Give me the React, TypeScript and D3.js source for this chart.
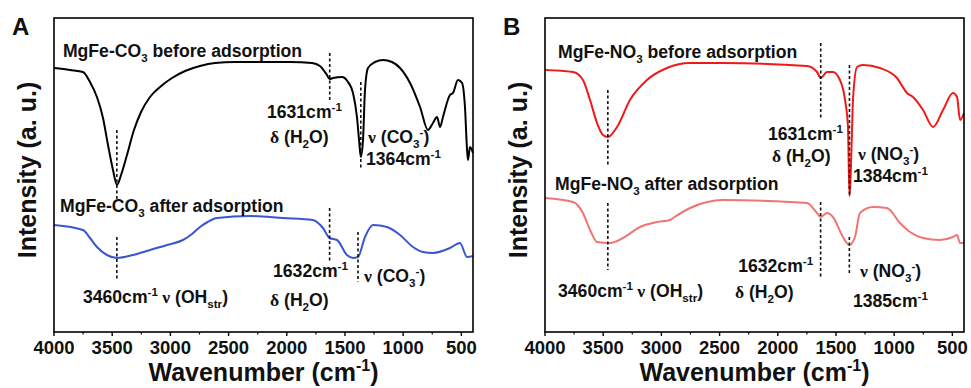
import React from "react";
import * as d3 from "d3";

// ---------- DATA (wavenumber cm-1, intensity a.u.) ----------
const majorTicks = [4000, 3500, 3000, 2500, 2000, 1500, 1000, 500];
const minorTicks = [3750, 3250, 2750, 2250, 1750, 1250, 750];

const co3BeforeWn = [4000, 3863, 3751, 3691, 3631, 3579, 3536, 3493, 3459, 3424, 3373, 3313, 3252, 3175, 3089, 2986, 2874, 2746, 2617, 2445, 2230, 1972, 1783, 1715, 1660, 1631, 1603, 1526, 1474, 1431, 1397, 1379, 1364, 1345, 1328, 1302, 1242, 1173, 1096, 1027, 941, 855, 787, 744, 709, 683, 658, 598, 572, 529, 494, 469, 451, 443, 426, 400];
const co3BeforeI = [264, 262, 260, 250, 235, 214, 187, 162, 147, 157, 177, 202, 220, 235, 245, 254, 261, 266, 269, 270, 270, 270, 269, 266, 258, 253, 254, 255, 250, 239, 215, 192, 175, 192, 242, 264, 270, 272, 270, 264, 249, 225, 202, 209, 215, 205, 215, 237, 239, 252, 249, 225, 182, 172, 185, 179];

const co3AfterWn = [4000, 3751, 3691, 3631, 3545, 3459, 3321, 3175, 3029, 2892, 2814, 2746, 2680, 2600, 2316, 2032, 1775, 1689, 1632, 1568, 1483, 1431, 1388, 1328, 1259, 1139, 1027, 916, 830, 744, 598, 512, 451, 400];
const co3AfterI = [107, 102, 94, 85, 77, 74, 77, 82, 87, 92, 98, 105, 110, 114, 116, 114, 112, 104, 94, 92, 77, 74, 75, 95, 107, 105, 97, 85, 80, 79, 84, 89, 75, 76];

const no3BeforeWn = [4000, 3759, 3674, 3613, 3553, 3502, 3460, 3381, 3270, 3124, 2952, 2754, 2471, 1749, 1663, 1631, 1577, 1526, 1466, 1422, 1397, 1384, 1362, 1354, 1319, 1268, 1122, 976, 890, 838, 752, 666, 580, 495, 460, 434, 400];
const no3BeforeI = [262, 260, 252, 232, 209, 197, 195, 205, 232, 252, 264, 269, 269, 266, 260, 254, 260, 260, 252, 232, 205, 136, 202, 232, 265, 267, 264, 254, 239, 235, 222, 205, 222, 239, 235, 212, 219];

const no3AfterWn = [4000, 3759, 3674, 3613, 3553, 3442, 3330, 3184, 3038, 2926, 2900, 2754, 2608, 2471, 1895, 1749, 1663, 1632, 1577, 1526, 1440, 1385, 1337, 1294, 1182, 1062, 950, 864, 752, 606, 495, 460, 434, 400];
const no3AfterI = [134, 130, 119, 102, 90, 89, 94, 105, 110, 112, 114, 124, 130, 132, 130, 129, 119, 115, 119, 115, 95, 87, 95, 119, 125, 124, 109, 100, 94, 92, 95, 97, 89, 89];

// ---------- LAYOUT ----------
const W = 971, H = 388;
const panels = [
  { letter: "A", left: 54, right: 473 },
  { letter: "B", left: 545, right: 964 },
];
const TOP = 18, BOTTOM = 332;

type Part = { t: string; sub?: boolean; sup?: boolean; serif?: boolean };

function Rich({ x, y, parts, size = 17 }: { x: number; y: number; parts: Part[]; size?: number }) {
  let prev = 0;
  return (
    <text x={x} y={y} fontSize={size} fontWeight="bold" fontFamily="'Liberation Sans', Arial, sans-serif" fill="#111">
      {parts.map((p, i) => {
        const shift = p.sub ? size * 0.28 : p.sup ? -size * 0.38 : 0;
        const dy = shift - prev;
        prev = shift;
        return (
          <tspan key={i} dy={dy} fontSize={p.sub || p.sup ? size * 0.66 : size}
            fontFamily={p.serif ? "'Liberation Serif', 'Times New Roman', serif" : undefined}>
            {p.t}
          </tspan>
        );
      })}
    </text>
  );
}

const cm = (n: string): Part[] => [{ t: n + "cm" }, { t: "-1", sup: true }];

type Ann = { wn: number; v: number; parts: Part[] };
type Dash = { wn: number; v1: number; v2: number };

const annA: Ann[] = [
  { wn: 3923, v: 275, parts: [{ t: "MgFe-CO" }, { t: "3", sub: true }, { t: " before adsorption" }] },
  { wn: 2170, v: 214, parts: cm("1631") },
  { wn: 2144, v: 189, parts: [{ t: "δ", serif: true }, { t: " (H" }, { t: "2", sub: true }, { t: "O)" }] },
  { wn: 1302, v: 189, parts: [{ t: "ν", serif: true }, { t: " (CO" }, { t: "3", sub: true }, { t: "-", sup: true }, { t: ")" }] },
  { wn: 1319, v: 167, parts: cm("1364") },
  { wn: 3948, v: 120, parts: [{ t: "MgFe-CO" }, { t: "3", sub: true }, { t: " after adsorption" }] },
  { wn: 3751, v: 29, parts: [...cm("3460"), { t: " ν", serif: true }, { t: " (OH" }, { t: "str", sub: true }, { t: ")" }] },
  { wn: 2118, v: 55, parts: cm("1632") },
  { wn: 2144, v: 26, parts: [{ t: "δ", serif: true }, { t: " (H" }, { t: "2", sub: true }, { t: "O)" }] },
  { wn: 1336, v: 50, parts: [{ t: "ν", serif: true }, { t: " (CO" }, { t: "3", sub: true }, { t: "-", sup: true }, { t: ")" }] },
];
const dashA: Dash[] = [
  { wn: 1631, v1: 279, v2: 232 },
  { wn: 1364, v1: 250, v2: 162 },
  { wn: 3460, v1: 202, v2: 130 },
  { wn: 3460, v1: 95, v2: 52 },
  { wn: 1632, v1: 124, v2: 69 },
  { wn: 1388, v1: 100, v2: 50 },
];
const annB: Ann[] = [
  { wn: 3888, v: 274, parts: [{ t: "MgFe-NO" }, { t: "3", sub: true }, { t: " before adsorption" }] },
  { wn: 2084, v: 192, parts: cm("1631") },
  { wn: 2050, v: 170, parts: [{ t: "δ", serif: true }, { t: " (H" }, { t: "2", sub: true }, { t: "O)" }] },
  { wn: 1311, v: 172, parts: [{ t: "ν", serif: true }, { t: " (NO" }, { t: "3", sub: true }, { t: "-", sup: true }, { t: ")" }] },
  { wn: 1354, v: 150, parts: cm("1384") },
  { wn: 3914, v: 142, parts: [{ t: "MgFe-NO" }, { t: "3", sub: true }, { t: " after adsorption" }] },
  { wn: 3888, v: 35, parts: [...cm("3460"), { t: " ν", serif: true }, { t: " (OH" }, { t: "str", sub: true }, { t: ")" }] },
  { wn: 2340, v: 60, parts: cm("1632") },
  { wn: 2368, v: 34, parts: [{ t: "δ", serif: true }, { t: " (H" }, { t: "2", sub: true }, { t: "O)" }] },
  { wn: 1294, v: 55, parts: [{ t: "ν", serif: true }, { t: " (NO" }, { t: "3", sub: true }, { t: "-", sup: true }, { t: ")" }] },
  { wn: 1354, v: 25, parts: cm("1385") },
];
const dashB: Dash[] = [
  { wn: 1631, v1: 289, v2: 214 },
  { wn: 1384, v1: 267, v2: 135 },
  { wn: 3460, v1: 242, v2: 167 },
  { wn: 3460, v1: 129, v2: 62 },
  { wn: 1632, v1: 130, v2: 55 },
  { wn: 1385, v1: 95, v2: 57 },
];

const seriesA = [
  { wn: co3BeforeWn, i: co3BeforeI, color: "#000000" },
  { wn: co3AfterWn, i: co3AfterI, color: "#3a55d2" },
];
const seriesB = [
  { wn: no3BeforeWn, i: no3BeforeI, color: "#f01818" },
  { wn: no3AfterWn, i: no3AfterI, color: "#f07474" },
];

function Panel({ idx }: { idx: number }) {
  const p = panels[idx];
  const series = idx === 0 ? seriesA : seriesB;
  const anns = idx === 0 ? annA : annB;
  const dashes = idx === 0 ? dashA : dashB;
  const x = d3.scaleLinear().domain([4000, 400]).range([p.left, p.right]);
  const y = d3.scaleLinear().domain([0, BOTTOM - TOP]).range([BOTTOM, TOP]);
  const line = d3.line<[number, number]>().x((d) => x(d[0])).y((d) => y(d[1])).curve(d3.curveMonotoneX);
  const cx = (p.left + p.right) / 2;
  const font = "'Liberation Sans', Arial, sans-serif";
  return (
    <g>
      {series.map((s, k) => (
        <path key={k} d={line(s.wn.map((w, j) => [w, s.i[j]] as [number, number])) || ""}
          fill="none" stroke={s.color} strokeWidth={2} strokeLinejoin="round" />
      ))}
      {dashes.map((d, k) => (
        <line key={k} x1={x(d.wn)} x2={x(d.wn)} y1={y(d.v1)} y2={y(d.v2)}
          stroke="#111" strokeWidth={1.6} strokeDasharray="3,2.5" />
      ))}
      {anns.map((a, k) => (
        <Rich key={k} x={x(a.wn)} y={y(a.v)} parts={a.parts} size={17.6} />
      ))}
      <rect x={p.left} y={TOP} width={p.right - p.left} height={BOTTOM - TOP} fill="none" stroke="#000" strokeWidth={1.6} />
      {majorTicks.map((t) => (
        <g key={t}>
          <line x1={x(t)} x2={x(t)} y1={BOTTOM} y2={BOTTOM + 4} stroke="#000" strokeWidth={1.4} />
          <text x={x(t)} y={BOTTOM + 22} textAnchor="middle" fontSize={18.5} fontWeight="bold" fontFamily={font} fill="#111">{t}</text>
        </g>
      ))}
      {minorTicks.map((t) => (
        <line key={t} x1={x(t)} x2={x(t)} y1={BOTTOM} y2={BOTTOM + 2.5} stroke="#000" strokeWidth={1.2} />
      ))}
      <text x={cx} y={BOTTOM + 49} textAnchor="middle" fontSize={25} fontWeight="bold" fontFamily={font} fill="#111">
        <tspan>Wavenumber (cm</tspan>
        <tspan dy={-10} fontSize={16}>-1</tspan>
        <tspan dy={10}>)</tspan>
      </text>
      <text transform={`translate(${p.left - 18},${(TOP + BOTTOM) / 2 - 5}) rotate(-90)`} textAnchor="middle"
        fontSize={25} fontWeight="bold" fontFamily={font} fill="#111">Intensity (a. u.)</text>
      <text x={p.left - 42} y={35} fontSize={24} fontWeight="bold" fontFamily={font} fill="#111">{p.letter}</text>
    </g>
  );
}

export default function App() {
  return (
    <svg width={W} height={H} style={{ position: "absolute", left: 0, top: 0, background: "#fff" }}>
      <rect width={W} height={H} fill="#fff" />
      <Panel idx={0} />
      <Panel idx={1} />
    </svg>
  );
}
